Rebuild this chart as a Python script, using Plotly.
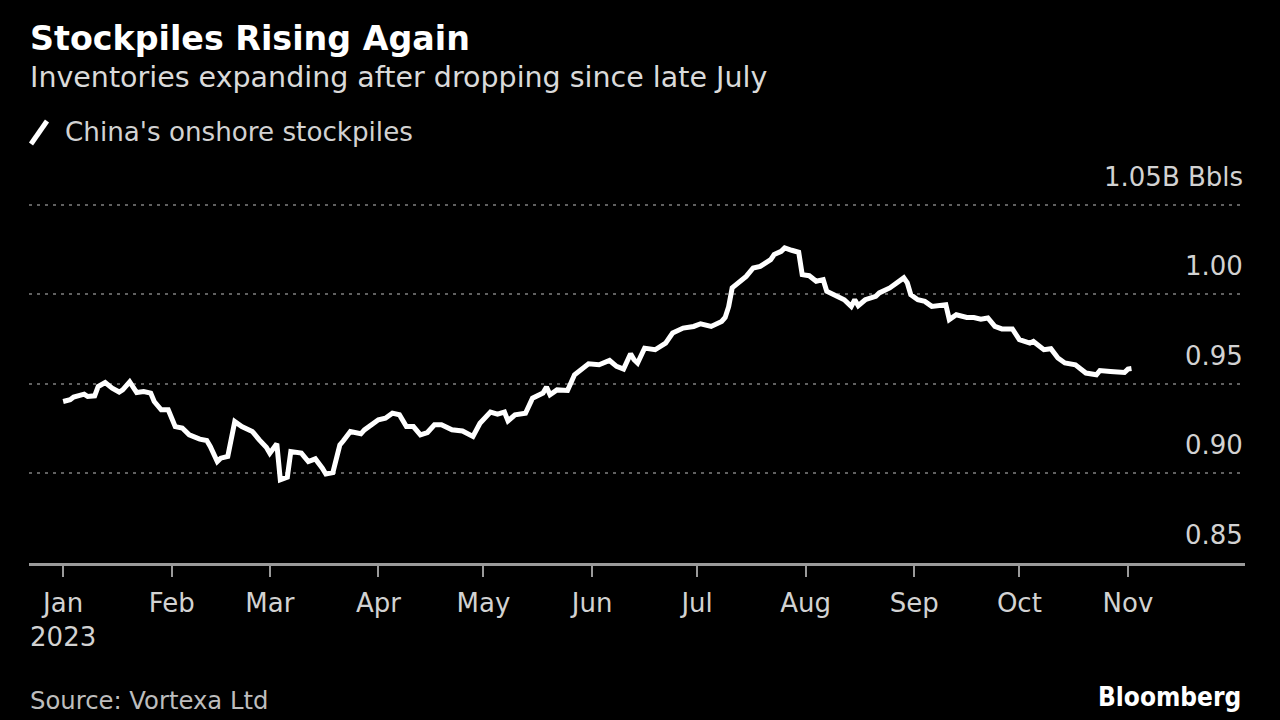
import plotly.graph_objects as go

# ---- data ----
dates = [
    "2023-01-01", "2023-01-03", "2023-01-04", "2023-01-07", "2023-01-08", "2023-01-10",
    "2023-01-11", "2023-01-13", "2023-01-15", "2023-01-17", "2023-01-18", "2023-01-20",
    "2023-01-22", "2023-01-24", "2023-01-26", "2023-01-27", "2023-01-29", "2023-01-31",
    "2023-02-02", "2023-02-04", "2023-02-06", "2023-02-09", "2023-02-11", "2023-02-12",
    "2023-02-14", "2023-02-15", "2023-02-17", "2023-02-19", "2023-02-21", "2023-02-24",
    "2023-02-26", "2023-02-28", "2023-03-01", "2023-03-03", "2023-03-04", "2023-03-05",
    "2023-03-06", "2023-03-07", "2023-03-10", "2023-03-12", "2023-03-14", "2023-03-16",
    "2023-03-17", "2023-03-19", "2023-03-21", "2023-03-22", "2023-03-24", "2023-03-27",
    "2023-03-28", "2023-04-01", "2023-04-03", "2023-04-05", "2023-04-07", "2023-04-09",
    "2023-04-11", "2023-04-13", "2023-04-15", "2023-04-17", "2023-04-19", "2023-04-22",
    "2023-04-25", "2023-04-28", "2023-04-30", "2023-05-03", "2023-05-05", "2023-05-07",
    "2023-05-08", "2023-05-10", "2023-05-13", "2023-05-15", "2023-05-18", "2023-05-19",
    "2023-05-20", "2023-05-22", "2023-05-25", "2023-05-27", "2023-05-29", "2023-05-31",
    "2023-06-03", "2023-06-06", "2023-06-08", "2023-06-10", "2023-06-12", "2023-06-13",
    "2023-06-14", "2023-06-16", "2023-06-19", "2023-06-22", "2023-06-24", "2023-06-27",
    "2023-06-30", "2023-07-02", "2023-07-05", "2023-07-08", "2023-07-09", "2023-07-10",
    "2023-07-11", "2023-07-13", "2023-07-15", "2023-07-17", "2023-07-19", "2023-07-22",
    "2023-07-23", "2023-07-25", "2023-07-26", "2023-07-28", "2023-07-30", "2023-07-31",
    "2023-08-02", "2023-08-04", "2023-08-06", "2023-08-07", "2023-08-10", "2023-08-12",
    "2023-08-14", "2023-08-15", "2023-08-16", "2023-08-18", "2023-08-21", "2023-08-22",
    "2023-08-25", "2023-08-27", "2023-08-29", "2023-08-30", "2023-08-31", "2023-09-02",
    "2023-09-04", "2023-09-06", "2023-09-09", "2023-09-10", "2023-09-11", "2023-09-13",
    "2023-09-16", "2023-09-18", "2023-09-20", "2023-09-22", "2023-09-24", "2023-09-26",
    "2023-09-29", "2023-10-01", "2023-10-04", "2023-10-05", "2023-10-08", "2023-10-10",
    "2023-10-12", "2023-10-14", "2023-10-17", "2023-10-20", "2023-10-23", "2023-10-24",
    "2023-10-27", "2023-10-29", "2023-10-31", "2023-11-01", "2023-11-02",
]
stockpiles_bbl = [
    0.9401, 0.9411, 0.9426, 0.9442, 0.9429, 0.9433,
    0.9485, 0.9507, 0.9476, 0.9454, 0.9466, 0.9511,
    0.9451, 0.9457, 0.9448, 0.9401, 0.9355, 0.9355,
    0.9261, 0.9253, 0.9215, 0.9191, 0.9183, 0.9150,
    0.9066, 0.9085, 0.9094, 0.9289, 0.9261, 0.9234,
    0.9187, 0.9146, 0.9113, 0.9165, 0.8964, 0.8973,
    0.8979, 0.9122, 0.9113, 0.9066, 0.9081, 0.9029,
    0.8997, 0.9004, 0.9159, 0.9182, 0.9234, 0.9221,
    0.9243, 0.9299, 0.9308, 0.9336, 0.9327, 0.9261,
    0.9261, 0.9215, 0.9228, 0.9271, 0.9271, 0.9243,
    0.9237, 0.9206, 0.9280, 0.9342, 0.9331, 0.9342,
    0.9293, 0.9327, 0.9336, 0.9420, 0.9448, 0.9482,
    0.9439, 0.9466, 0.9463, 0.9550, 0.9578, 0.9612,
    0.9606, 0.9630, 0.9597, 0.9582, 0.9668, 0.9634,
    0.9616, 0.9699, 0.9690, 0.9727, 0.9783, 0.9811,
    0.9820, 0.9835, 0.9820, 0.9848, 0.9870, 0.9930,
    1.0035, 1.0063, 1.0099, 1.0146, 1.0155, 1.0193,
    1.0221, 1.0239, 1.0258, 1.0245, 1.0234, 1.0109,
    1.0103, 1.0072, 1.0081, 1.0016, 0.9988, 0.9969,
    0.9932, 0.9969, 0.9936, 0.9969, 0.9988, 1.0007,
    1.0035, 1.0063, 1.0091, 1.0063, 0.9997, 0.9969,
    0.9960, 0.9932, 0.9941, 0.9941, 0.9858, 0.9885,
    0.9870, 0.9870, 0.9861, 0.9867, 0.9820, 0.9806,
    0.9806, 0.9746, 0.9727, 0.9736, 0.9690, 0.9696,
    0.9644, 0.9616, 0.9606, 0.9560, 0.9550, 0.9574,
    0.9569, 0.9565, 0.9563, 0.9582, 0.9585,
]
series_name = "China's onshore stockpiles"

month_ticks = ["2023-01-01", "2023-02-01", "2023-03-01", "2023-04-01", "2023-05-01",
               "2023-06-01", "2023-07-01", "2023-08-01", "2023-09-01", "2023-10-01",
               "2023-11-01"]
month_labels = ["Jan<br>2023", "Feb", "Mar", "Apr", "May", "Jun", "Jul", "Aug", "Sep",
                "Oct", "Nov"]
y_ticks = [0.85, 0.90, 0.95, 1.00, 1.05]
y_labels = ["0.85", "0.90", "0.95", "1.00", "1.05B Bbls"]

title_text = "Stockpiles Rising Again"
subtitle_text = "Inventories expanding after dropping since late July"
source_text = "Source: Vortexa Ltd"
brand_text = "Bloomberg"

# ---- layout geometry (pixels) ----
W, H = 1280, 720
ML, MR, MT, MB = 29, 35, 201, 157
PW, PH = W - ML - MR, H - MT - MB
FONT = "DejaVu Sans, sans-serif"
FONT_BRAND = "DejaVu Sans Condensed, DejaVu Sans, sans-serif"
TXT = "#d2d2d2"


def px(xp):
    return (xp - ML) / PW


def py(yp):
    return (H - MB - yp) / PH


fig = go.Figure()
fig.add_trace(go.Scatter(
    x=dates, y=stockpiles_bbl, mode="lines", name=series_name,
    line=dict(color="#ffffff", width=5), showlegend=False,
))

fig.update_layout(
    width=W, height=H,
    paper_bgcolor="#000000", plot_bgcolor="#000000",
    margin=dict(l=ML, r=MR, t=MT, b=MB, pad=0),
    font=dict(family=FONT, color=TXT, size=26),
    showlegend=False,
    xaxis=dict(
        type="date",
        range=["2022-12-22 06:00", "2023-12-04 10:00"],
        tickvals=month_ticks, ticktext=month_labels,
        showgrid=False, zeroline=False,
        showline=True, linecolor="#9a9a9a", linewidth=3,
        ticks="outside", ticklen=11, tickwidth=2, tickcolor="#9a9a9a",
        tickfont=dict(size=26, color=TXT, family=FONT),
        ticklabelstandoff=4,
    ),
    yaxis=dict(
        range=[0.85, 1.052], side="right",
        tickvals=y_ticks, showticklabels=False,
        showgrid=True, gridcolor="#606060", gridwidth=2, griddash="3px,5px",
        zeroline=False, showline=False, ticks="",
    ),
)

annos = [
    dict(text="<b>" + title_text + "</b>", x=px(28), y=py(38), xanchor="left", yanchor="middle",
         xref="paper", yref="paper",
         font=dict(size=33.3, color="#ffffff", family=FONT)),
    dict(text=subtitle_text, x=px(28), y=py(77), xanchor="left", yanchor="middle",
         xref="paper", yref="paper",
         font=dict(size=28.5, color="#dadada", family=FONT)),
    dict(text=series_name, x=px(63), y=py(132), xanchor="left", yanchor="middle",
         xref="paper", yref="paper",
         font=dict(size=26.2, color=TXT, family=FONT)),
    dict(text=source_text, x=px(28), y=py(700), xanchor="left", yanchor="middle",
         xref="paper", yref="paper",
         font=dict(size=24.3, color="#bdbdbd", family=FONT)),
    dict(text="<b>" + brand_text + "</b>", x=px(1243), y=py(697), xanchor="right", yanchor="middle",
         xref="paper", yref="paper",
         font=dict(size=26, color="#ffffff", family=FONT_BRAND)),
]
# y-axis value labels: right aligned, sitting above each gridline
for v, lab in zip(y_ticks, y_labels):
    annos.append(dict(text=lab, x=1, xref="paper", y=v, yref="y",
                      xanchor="right", yanchor="middle", yshift=28,
                      font=dict(size=26, color=TXT, family=FONT)))
for a in annos:
    a.update(showarrow=False)
fig.update_layout(annotations=annos)

# legend glyph: short slanted stroke
fig.add_shape(type="line", xref="paper", yref="paper",
              x0=px(31), y0=py(144), x1=px(47), y1=py(121),
              line=dict(color="#ffffff", width=5))

fig.write_html("out.html", config={"displayModeBar": False},
               post_script="document.body.style.margin='0';")
